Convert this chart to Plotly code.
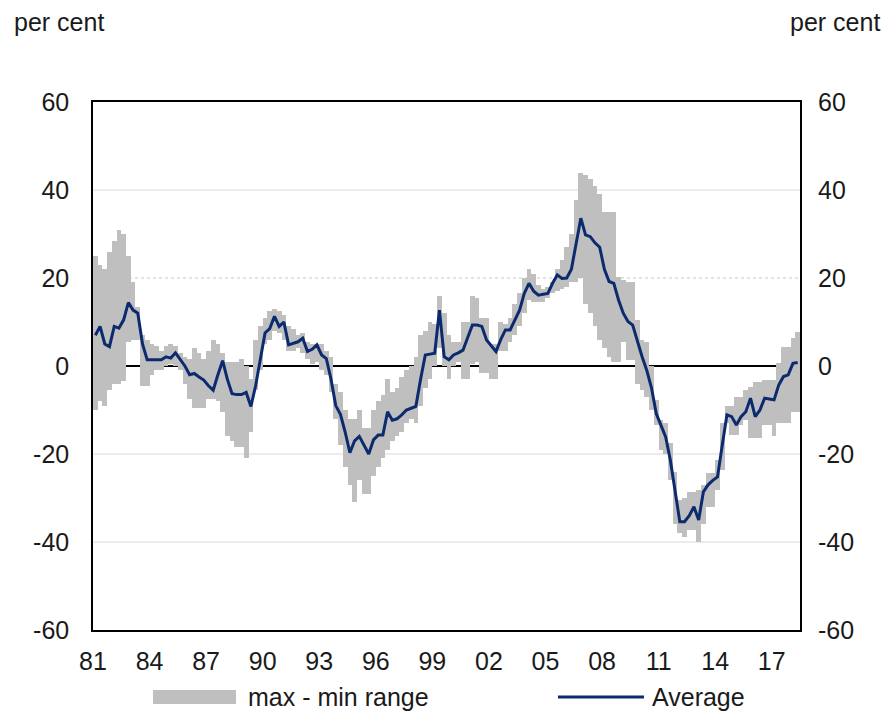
import plotly.graph_objects as go

# Quarterly data 1981Q1 .. 2018Q2 (150 quarters), per cent
average = [
    7, 9, 5, 4.4, 9, 8.6, 10.5, 14.4, 12.7, 12,
    5, 1.4, 1.4, 1.4, 1.4, 2.1, 1.8, 3, 1.4, 0,
    -2, -1.7, -2.5, -3.2, -4.5, -5.5, -2, 1.2, -3, -6.3,
    -6.5, -6.5, -6, -9.2, -4.5, 2, 7.5, 8.5, 11.3, 9,
    10, 4.8, 5.2, 5.5, 6.3, 3.3, 3.8, 4.8, 2.5, 1.7,
    -3, -9, -11, -15, -19.7, -17, -16, -18, -20, -16.8,
    -15.7, -15.7, -10.4, -12.3, -12, -11.1, -10, -9.6, -9.2, -3,
    2.5, 2.7, 2.9, 12.7, 2.1, 1.4, 2.5, 3, 3.6, 6.5,
    9.3, 9.3, 9, 5.9, 4.5, 3.3, 6, 8.2, 8.2, 10.5,
    12.7, 16.5, 18.8, 17, 16.1, 16.3, 16.5, 18.8, 20.7, 19.9,
    20, 22, 27.5, 33.6, 29.8, 29.4, 28, 27, 22, 19.2,
    18.8, 15, 12, 10.1, 9.3, 5.5, 2.1, -1, -5, -10.8,
    -13.5, -16.1, -21.4, -28, -35.4, -35.4, -34, -32, -35, -28.6,
    -27, -26, -25.2, -18, -11.1, -11.5, -13.4, -11.5, -10.4, -7.3,
    -11.5, -10, -7.3, -7.5, -7.7, -4.3, -2.4, -2, 0.6, 0.8,
]
range_max = [
    25, 23, 22, 26, 28.5, 31, 30, 25, 19, 13.5,
    7, 6, 5, 4.5, 3.5, 4.5, 5, 4.5, 3, 2,
    1.5, 4, 3, 1.5, 3.5, 6, 5, 3, 1, 1,
    1, 1.5, 0, -3, 6, 9, 11, 12.5, 13, 12.5,
    11.5, 9, 8.5, 7, 7.5, 5.5, 5, 5, 5, 3.5,
    2, -4, -6, -10, -12, -12, -10, -14, -14, -10,
    -8, -6.5, -3, -6, -5, -2.5, -1, 0, 2, 7,
    8, 10, 9.5, 16, 12, 7, 5.5, 5.5, 10, 10,
    16, 15.5, 11, 11, 5, 5, 10, 9.5, 11, 14,
    16.5, 20, 22, 21, 18.5, 17.5, 18, 19, 22, 24,
    27, 30, 37.7, 43.8, 43.5, 42.5, 41, 39, 35, 35,
    35, 20.3, 19.5, 19.2, 19, 10.5, 6, 5.5, 0, -7.7,
    -12.3, -13, -17.4, -24, -30.5, -30, -28.6, -28.6, -28.2, -27,
    -24.4, -24.4, -21.4, -13, -9.2, -9.2, -7, -7, -5.5, -4.7,
    -3.6, -3.6, -3.2, -3.2, -3.2, 0.6, 4.4, 4.4, 6.3, 7.8,
]
range_min = [
    -10, -8, -9, -5.5, -4, -4, -3.5, 5.5, 6, 6,
    -4.5, -4.5, -2, -1, -1, 0, 0.5, 0, -1, -4,
    -7.5, -9.5, -9.5, -9.5, -7.5, -7.5, -8, -10.5, -16, -17,
    -18.5, -18.5, -21, -15, -5.5, -1, 5, 6, 8, 7.5,
    6, 3.5, 3.5, 4, 3, 1.5, 0.5, 1, -1, -2,
    -6, -12, -18, -23, -27, -31, -26, -29, -29, -25,
    -23, -21, -19, -17, -16, -15, -13, -12, -13, -9,
    -5, -3, 0, 4, 0, -3, 0, 1, -3, -3,
    0.5, 1, -1.5, -1.5, -3, -3, 3.5, 3.5, 5.5, 7,
    9, 12, 15, 14.5, 14.5, 14.5, 15.5, 16.5, 17, 17.5,
    18, 19, 19, 20, 14, 12, 9, 6, 4, 2,
    1, 1, 5.5, 1.4, 1.4, -4, -5.5, -7, -10, -13.5,
    -19, -20, -26, -35.8, -38, -38.8, -37.3, -37.3, -40, -35.8,
    -32, -32, -28.2, -23.6, -13, -15.7, -15.7, -13.4, -12.3, -16.4,
    -16.4, -16.4, -13.4, -13.4, -16, -13, -13, -13, -10.4, -10.4,
]
tick_labels = ["81", "84", "87", "90", "93", "96", "99", "02", "05", "08", "11", "14", "17"]
y_ticks = [-60, -40, -20, 0, 20, 40, 60]
y_tick_text = ["-60", "-40", "-20", "0", "20", "40", "60"]
solid_grid = [40, -20, -40]
dotted_grid = [20]

n = len(average)
xq = list(range(n))
heights = [mx - mn for mx, mn in zip(range_max, range_min)]

FONT = "Liberation Sans, Arial, sans-serif"
FS = 25
TXT = "#1a1a1a"
GRAY = "#bfbfbf"
NAVY = "#0c2a6e"

fig = go.Figure()
fig.add_trace(go.Bar(
    x=xq, y=heights, base=range_min, width=1.0,
    marker=dict(color=GRAY, line=dict(width=0)),
    name="max - min range", showlegend=False, hoverinfo="skip",
))
fig.add_trace(go.Scatter(
    x=xq, y=average, mode="lines",
    line=dict(color=NAVY, width=3),
    name="Average", showlegend=False,
))
# invisible trace to activate the right-hand axis
fig.add_trace(go.Scatter(x=[0], y=[0], yaxis="y2", mode="markers",
                         marker=dict(opacity=0), showlegend=False, hoverinfo="skip"))

tickvals = [-0.5 + 12 * k for k in range(len(tick_labels))]

# gridlines
for g in solid_grid:
    fig.add_hline(y=g, line=dict(color="#d9d9d9", width=1), layer="below")
for g in dotted_grid:
    fig.add_hline(y=g, line=dict(color="#c8c8c8", width=1, dash="dot"), layer="below")

# page has an 8px body margin: figure is 876 wide, plot area 707x528
fig.update_layout(
    width=876, height=706,
    margin=dict(l=85, r=84, t=94, b=84),
    paper_bgcolor="white", plot_bgcolor="white",
    font=dict(family=FONT, size=FS, color=TXT),
    bargap=0,
    showlegend=False,
    xaxis=dict(
        range=[-0.5, n - 0.5], tickvals=tickvals, ticktext=tick_labels,
        showgrid=False, zeroline=False, showline=True, linecolor="black", linewidth=1.5,
        mirror=True, ticks="", ticklabelstandoff=8,
        tickfont=dict(family=FONT, size=FS, color=TXT),
    ),
    yaxis=dict(
        range=[-60, 60], tickvals=y_ticks, ticktext=y_tick_text,
        showgrid=False,
        zeroline=True, zerolinecolor="black", zerolinewidth=1.5,
        showline=True, linecolor="black", linewidth=1.5, mirror=True,
        ticks="", ticklabelstandoff=17,
        tickfont=dict(family=FONT, size=FS, color=TXT),
    ),
    yaxis2=dict(
        range=[-60, 60], tickvals=y_ticks, ticktext=y_tick_text,
        overlaying="y", side="right",
        showgrid=False, zeroline=False, showline=False, ticks="", ticklabelstandoff=17,
        tickfont=dict(family=FONT, size=FS, color=TXT),
    ),
)

# Titles (positions in paper units of the 707x528 plot area at page x 93..800, y 102..630)
fig.add_annotation(text="per cent", xref="paper", yref="paper", x=(12 - 93) / 707, y=(630 - 22) / 528,
                   xanchor="left", yanchor="middle", showarrow=False,
                   font=dict(family=FONT, size=FS, color=TXT))
fig.add_annotation(text="per cent", xref="paper", yref="paper", x=(882 - 93) / 707, y=(630 - 22) / 528,
                   xanchor="right", yanchor="middle", showarrow=False,
                   font=dict(family=FONT, size=FS, color=TXT))

# Legend drawn manually
ly = (630 - 697) / 528
fig.add_shape(type="rect", xref="paper", yref="paper",
              x0=(153 - 93) / 707, x1=(236 - 93) / 707, y0=ly - 7 / 528, y1=ly + 7 / 528,
              fillcolor=GRAY, line=dict(width=0))
fig.add_annotation(text="max - min range", xref="paper", yref="paper", x=(246 - 93) / 707, y=ly,
                   xanchor="left", yanchor="middle", showarrow=False,
                   font=dict(family=FONT, size=FS, color=TXT))
fig.add_shape(type="line", xref="paper", yref="paper",
              x0=(558 - 93) / 707, x1=(644 - 93) / 707, y0=ly, y1=ly,
              line=dict(color=NAVY, width=3))
fig.add_annotation(text="Average", xref="paper", yref="paper", x=(650 - 93) / 707, y=ly,
                   xanchor="left", yanchor="middle", showarrow=False,
                   font=dict(family=FONT, size=FS, color=TXT))

fig.write_html("out.html")
